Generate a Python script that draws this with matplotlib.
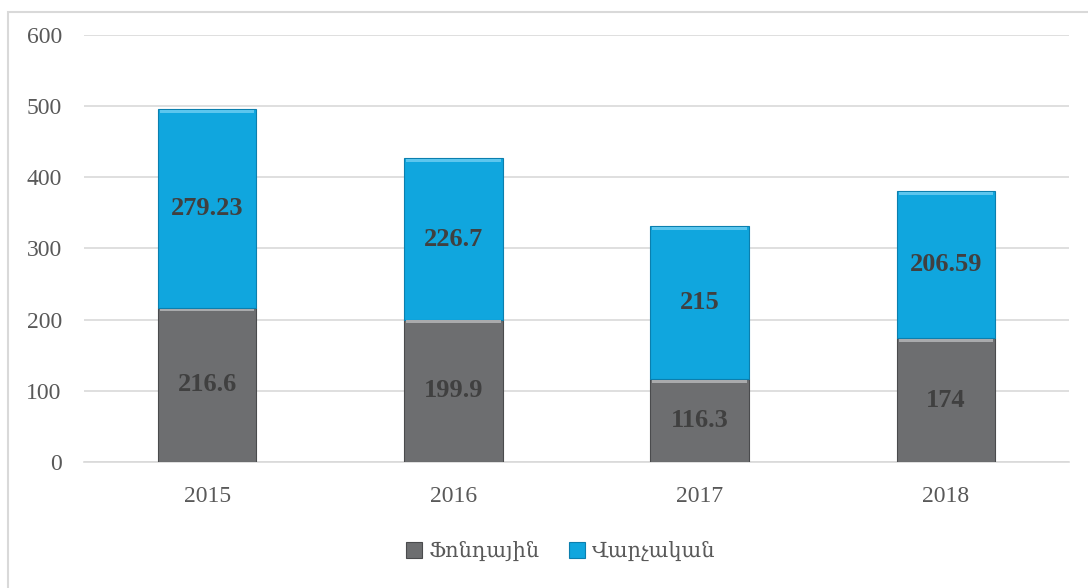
import matplotlib.pyplot as plt
from matplotlib.patches import Rectangle
import numpy as np

years = ["2015", "2016", "2017", "2018"]
fonayin = [216.6, 199.9, 116.3, 174]
varchakan = [279.23, 226.7, 215, 206.59]
series_names = ["Ֆոնդային", "Վարչական"]

plt.rcParams['font.family'] = ['Liberation Serif', 'DejaVu Serif']

fig = plt.figure(figsize=(10.88, 5.88), dpi=100)
ax = fig.add_axes([0.0772, 0.2143, 0.9053, 0.7262])

# outer chart border
fig.patches.append(Rectangle((8 / 1088, -0.05), 1.2, 1 - 12 / 588 + 0.05,
                             transform=fig.transFigure, fill=False,
                             edgecolor="#d9d9d9", linewidth=1.5))

x = np.arange(len(years))
w = 0.4
gray = "#6d6e70"
blue = "#10a6de"

b1 = ax.bar(x, fonayin, w, color=gray, edgecolor="#4a4b4d", linewidth=0.8,
            label=series_names[0], zorder=3)
b2 = ax.bar(x, varchakan, w, bottom=fonayin, color=blue, edgecolor="#0b7fae",
            linewidth=0.8, label=series_names[1], zorder=3)

# light bevel at the top of each segment
ax.bar(x, [4] * len(x), w * 0.96, bottom=np.array(fonayin) - 5,
       color="#a9aaac", linewidth=0, zorder=4)
ax.bar(x, [4] * len(x), w * 0.96,
       bottom=np.array(fonayin) + np.array(varchakan) - 5,
       color="#5cc6ee", linewidth=0, zorder=4)

for i in range(len(x)):
    ax.text(x[i], fonayin[i] / 2, f"{fonayin[i]:g}", ha="center", va="center",
            fontsize=19, fontweight="bold", color="#404040", zorder=5)
    ax.text(x[i], fonayin[i] + varchakan[i] / 2, f"{varchakan[i]:g}",
            ha="center", va="center", fontsize=19, fontweight="bold",
            color="#404040", zorder=5)

ax.set_xlim(-0.5, len(x) - 0.5)
ax.set_ylim(0, 600)
ax.set_yticks(range(0, 601, 100))
ax.set_xticks(x)
ax.set_xticklabels(years)
ax.yaxis.grid(True, color="#d9d9d9", linewidth=1.2, zorder=0)
ax.set_axisbelow(True)
for s in ["top", "right", "left"]:
    ax.spines[s].set_visible(False)
ax.spines["bottom"].set_color("#d9d9d9")
ax.spines["bottom"].set_linewidth(1.2)
ax.tick_params(axis="both", length=0, labelsize=17, colors="#595959")
ax.tick_params(axis="y", pad=16)
ax.tick_params(axis="x", pad=17)

leg = fig.legend(handles=[b1, b2], loc="center", bbox_to_anchor=(0.515, 0.063),
                 ncol=2, frameon=False, handlelength=0.8,
                 handleheight=0.8, handletextpad=0.3, columnspacing=1.4,
                 prop={"family": ["DejaVu Serif", "DejaVu Sans"], "size": 15})
for t in leg.get_texts():
    t.set_color("#595959")

fig.savefig("out.png", dpi=100)
